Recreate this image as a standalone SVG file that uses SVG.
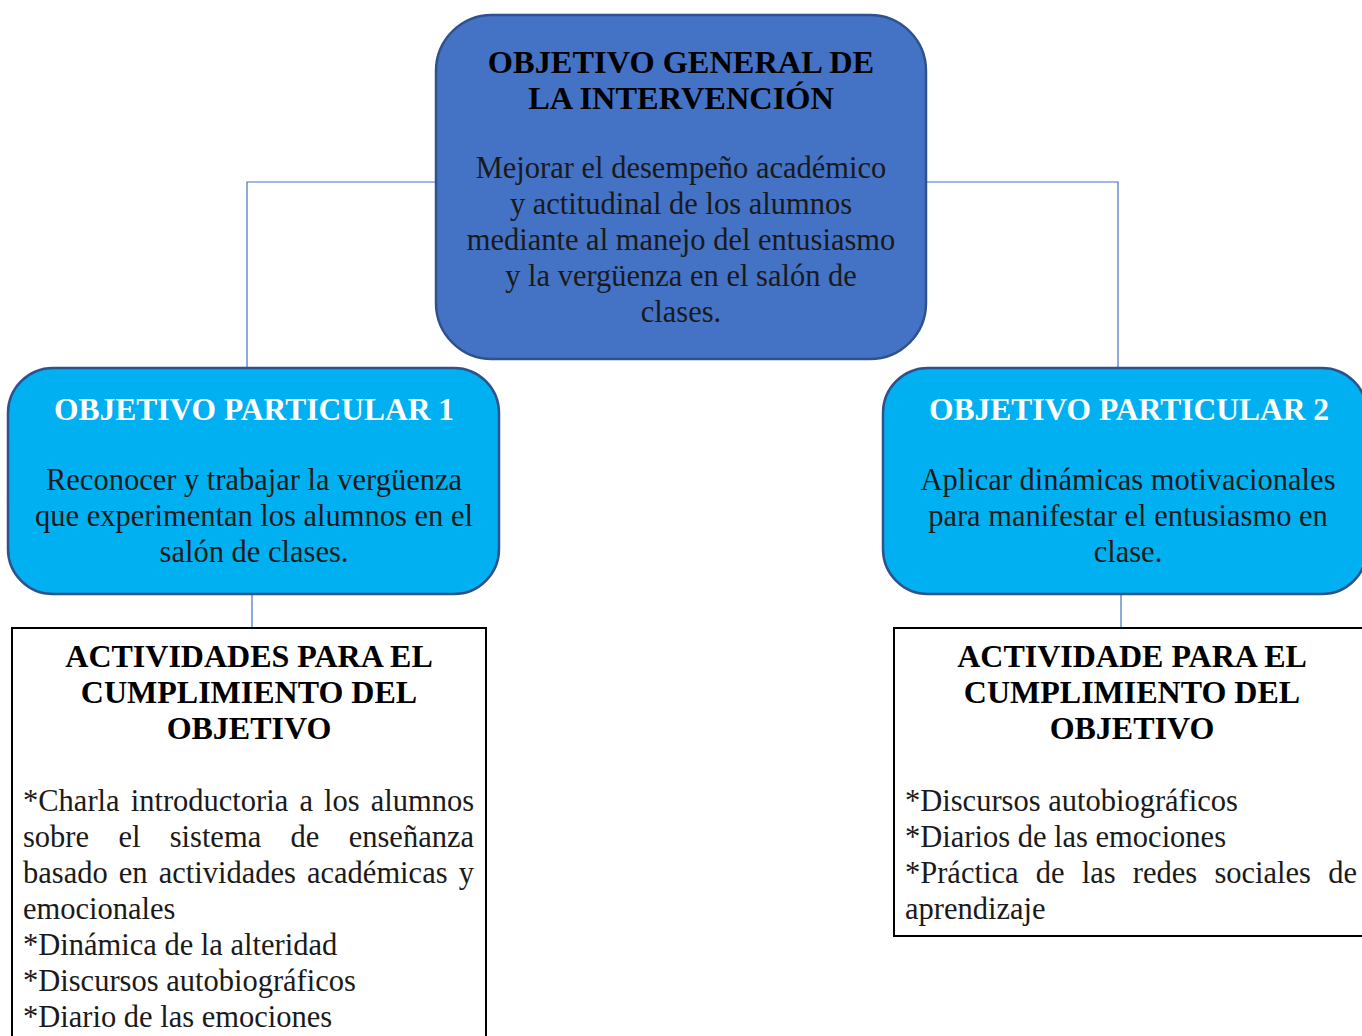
<svg xmlns="http://www.w3.org/2000/svg" width="1362" height="1036" viewBox="0 0 1362 1036">
  <style>
    .conn { fill: none; stroke: #4472C4; stroke-width: 1.2; }
    .general { fill: #4472C4; stroke: #2F528F; stroke-width: 2.5; }
    .particular { fill: #00B0F0; stroke: #2F528F; stroke-width: 2.5; }
    .activity { fill: #FFFFFF; stroke: #000000; stroke-width: 2; }
    text { font-family: "Liberation Serif", "Times New Roman", serif; }
    .title { font-weight: bold; font-size: 32px; fill: #000; text-anchor: middle; }
    .title-top { font-size: 32.4px; }
    .title-w { font-weight: bold; font-size: 31.5px; fill: #FFFFFF; text-anchor: middle; }
    .body { font-size: 30.5px; fill: #1a1a1a; text-anchor: middle; }
    .list { font-size: 30.5px; fill: #1a1a1a; }
    .end { text-anchor: end; }
  </style>

  <!-- connectors -->
  <g id="connectors">
    <polyline class="conn" points="436,182 247,182 247,368"/>
    <polyline class="conn" points="926,182 1118,182 1118,368"/>
    <line class="conn" x1="252" y1="594" x2="252" y2="628"/>
    <line class="conn" x1="1121" y1="594" x2="1121" y2="628"/>
  </g>

  <!-- general objective -->
  <g id="objetivo-general">
    <rect class="general" x="436" y="15" width="490" height="344" rx="56" ry="56"/>
    <text class="title title-top" x="681" y="73">OBJETIVO GENERAL DE</text>
    <text class="title title-top" x="681" y="109">LA INTERVENCIÓN</text>
    <text class="body" x="681" y="178">Mejorar el desempeño académico</text>
    <text class="body" x="681" y="214">y actitudinal de los alumnos</text>
    <text class="body" x="681" y="250">mediante al manejo del entusiasmo</text>
    <text class="body" x="681" y="286">y la vergüenza en el salón de</text>
    <text class="body" x="681" y="322">clases.</text>
  </g>

  <!-- particular objective 1 -->
  <g id="objetivo-particular-1">
    <rect class="particular" x="8" y="368" width="491" height="226" rx="45" ry="45"/>
    <text class="title-w" x="254" y="420">OBJETIVO PARTICULAR 1</text>
    <text class="body" x="254" y="490">Reconocer y trabajar la vergüenza</text>
    <text class="body" x="254" y="526">que experimentan los alumnos en el</text>
    <text class="body" x="254" y="562">salón de clases.</text>
  </g>

  <!-- particular objective 2 -->
  <g id="objetivo-particular-2">
    <rect class="particular" x="883" y="368" width="484" height="226" rx="45" ry="45"/>
    <text class="title-w" x="1129" y="420">OBJETIVO PARTICULAR 2</text>
    <text class="body" x="1128" y="490">Aplicar dinámicas motivacionales</text>
    <text class="body" x="1128" y="526">para manifestar el entusiasmo en</text>
    <text class="body" x="1128" y="562">clase.</text>
  </g>

  <!-- activities for objective 1 (justified lines placed word by word) -->
  <g id="actividades-1">
    <rect class="activity" x="12" y="628" width="474" height="420"/>
    <text class="title" x="249" y="667">ACTIVIDADES PARA EL</text>
    <text class="title" x="249" y="703">CUMPLIMIENTO DEL</text>
    <text class="title" x="249" y="739">OBJETIVO</text>
    <text class="list" y="811"><tspan x="23">*Charla</tspan><tspan x="130.7">introductoria</tspan><tspan x="299.4">a</tspan><tspan x="324">los</tspan></text>
    <text class="list end" x="474" y="811">alumnos</text>
    <text class="list" y="847"><tspan x="23">sobre</tspan><tspan x="118.4">el</tspan><tspan x="169.7">sistema</tspan><tspan x="290.5">de</tspan></text>
    <text class="list end" x="474" y="847">enseñanza</text>
    <text class="list" y="883"><tspan x="23">basado</tspan><tspan x="118.8">en</tspan><tspan x="158.7">actividades</tspan><tspan x="307">académicas</tspan></text>
    <text class="list end" x="474" y="883">y</text>
    <text class="list" x="23" y="919">emocionales</text>
    <text class="list" x="23" y="955">*Dinámica de la alteridad</text>
    <text class="list" x="23" y="991">*Discursos autobiográficos</text>
    <text class="list" x="23" y="1027">*Diario de las emociones</text>
  </g>

  <!-- activities for objective 2 -->
  <g id="actividades-2">
    <rect class="activity" x="894" y="628" width="476" height="308"/>
    <text class="title" x="1132" y="667">ACTIVIDADE PARA EL</text>
    <text class="title" x="1132" y="703">CUMPLIMIENTO DEL</text>
    <text class="title" x="1132" y="739">OBJETIVO</text>
    <text class="list" x="905" y="811">*Discursos autobiográficos</text>
    <text class="list" x="905" y="847">*Diarios de las emociones</text>
    <text class="list" y="883"><tspan x="905">*Práctica</tspan><tspan x="1035.7">de</tspan><tspan x="1081.7">las</tspan><tspan x="1132.8">redes</tspan><tspan x="1214.4">sociales</tspan></text>
    <text class="list end" x="1357" y="883">de</text>
    <text class="list" x="905" y="919">aprendizaje</text>
  </g>
</svg>
